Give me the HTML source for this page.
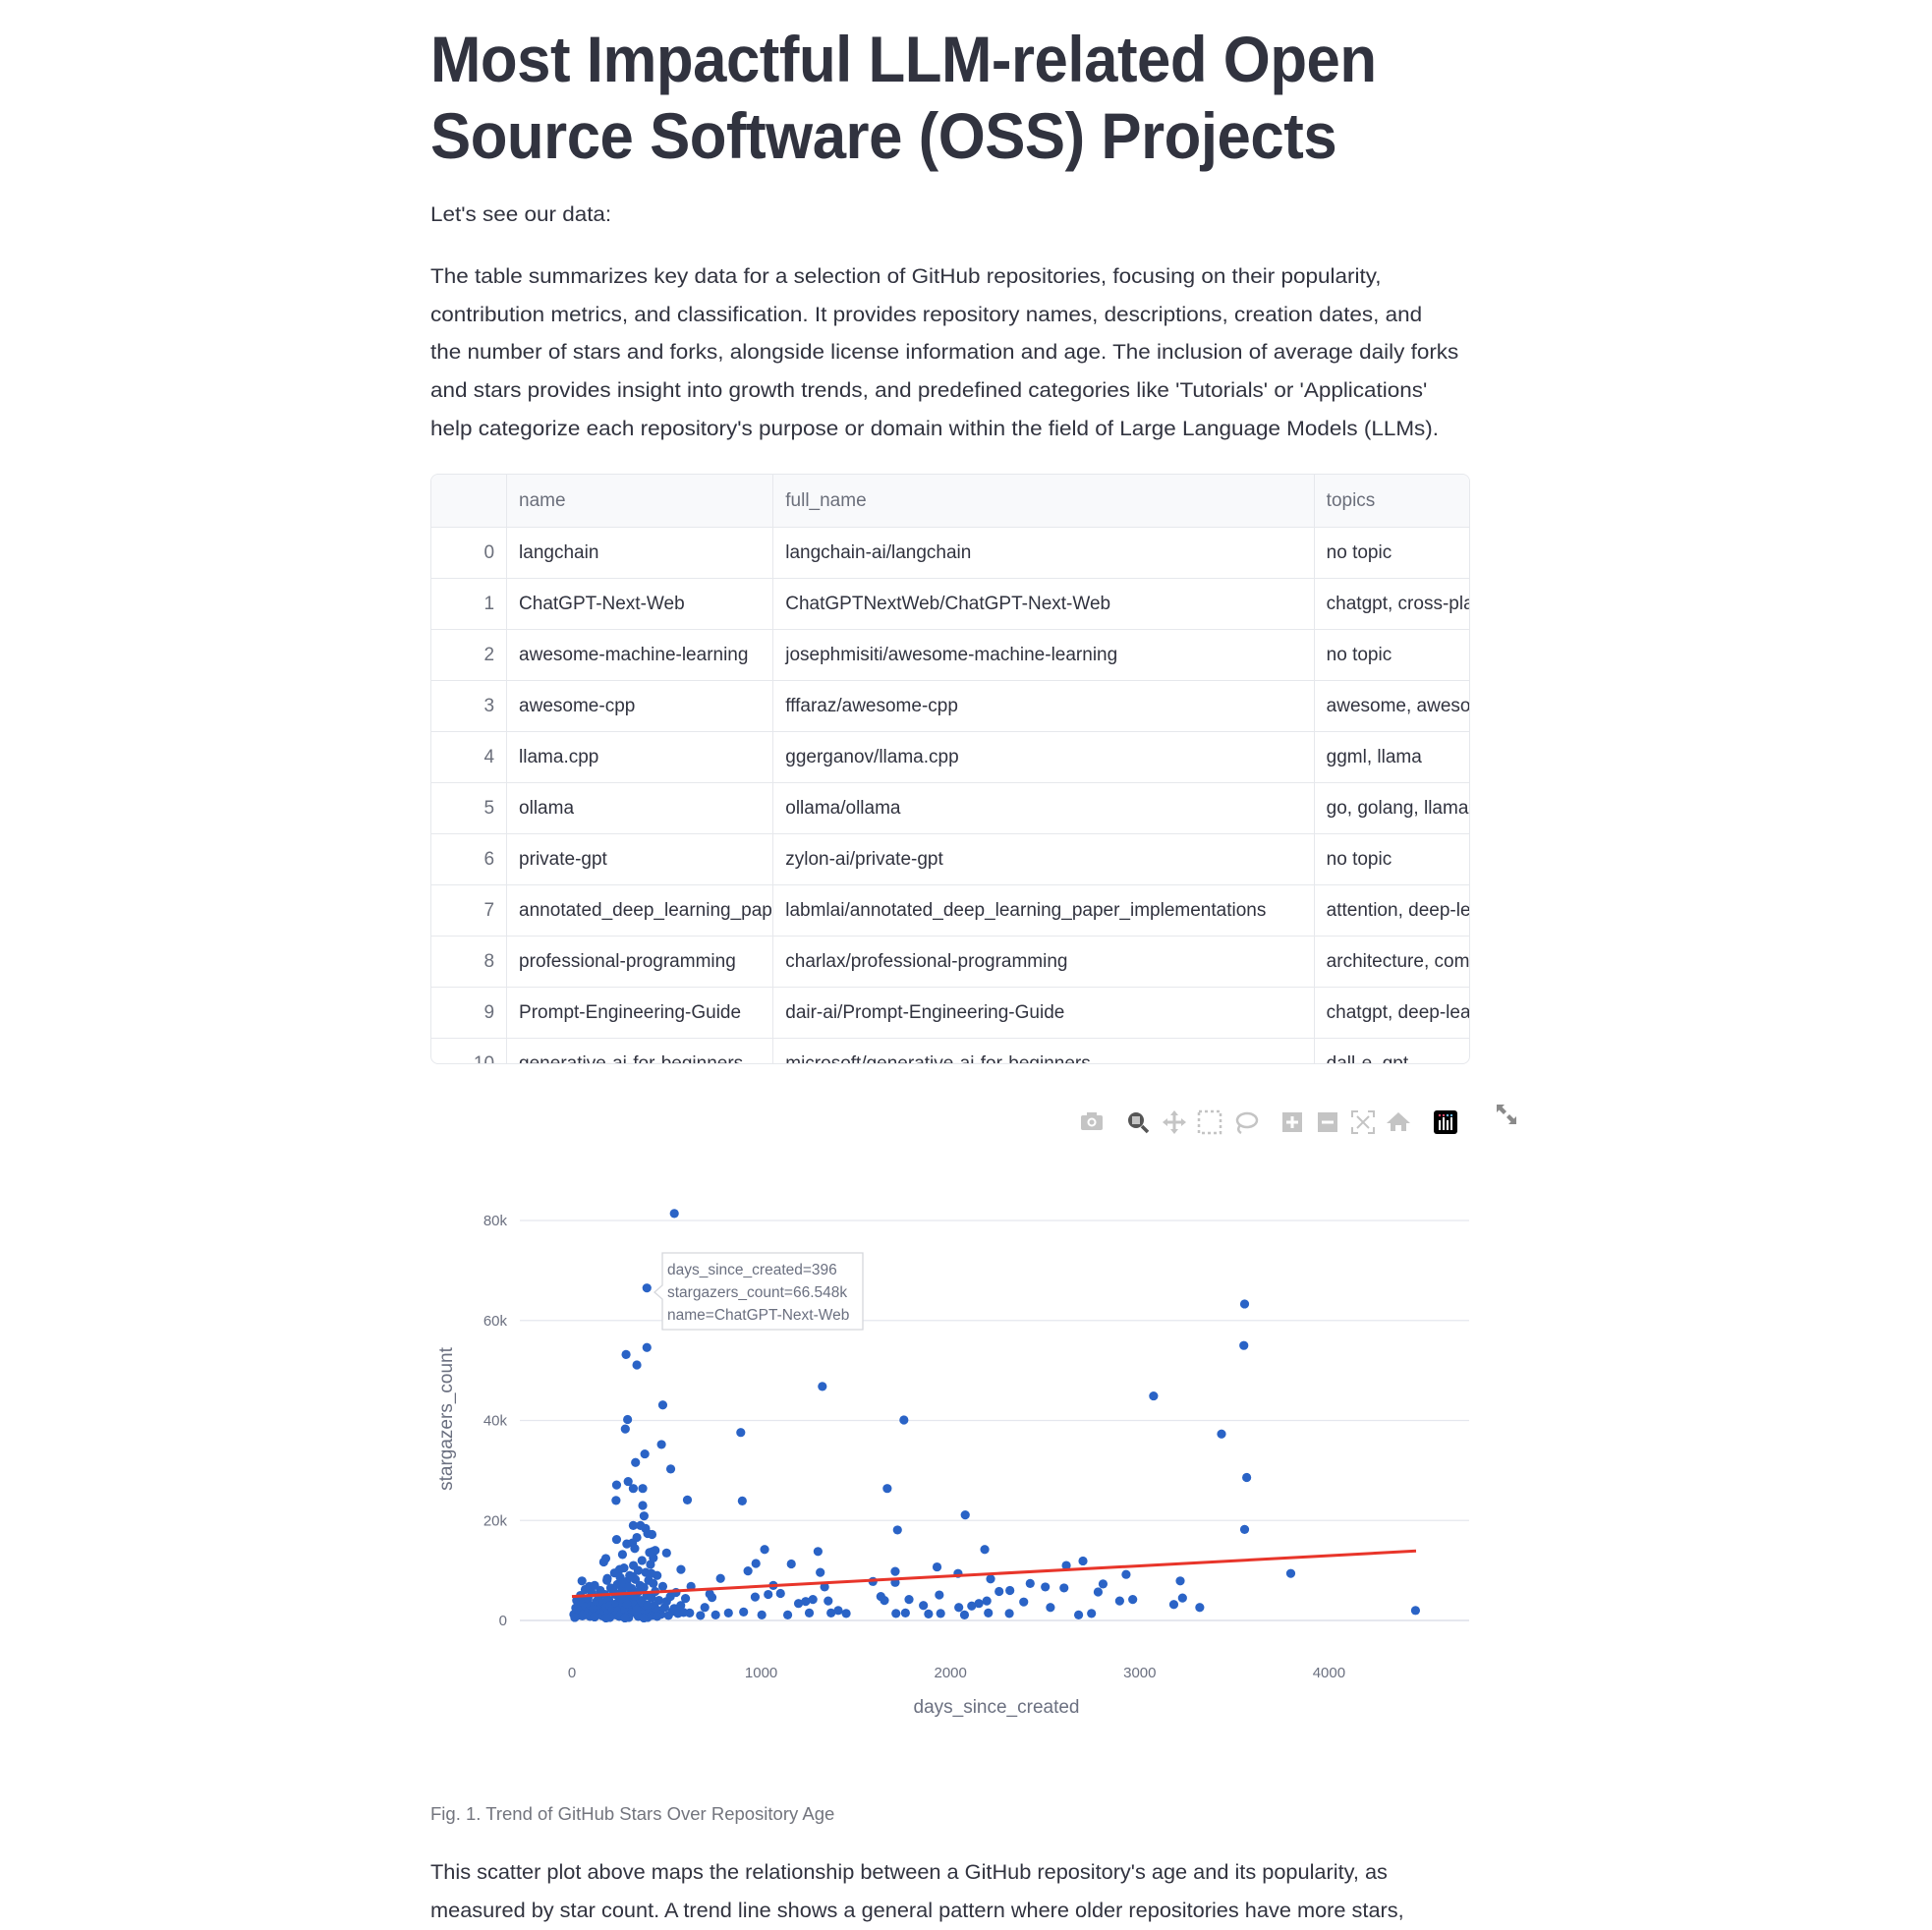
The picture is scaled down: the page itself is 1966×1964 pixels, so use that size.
<!DOCTYPE html>
<html><head><meta charset="utf-8">
<style>
body{margin:0;width:1966px;height:1962px;overflow:hidden;background:#fff;font-family:"Liberation Sans",sans-serif;color:#31333f;position:relative}
.abs{position:absolute}
h1{position:absolute;left:438px;top:21px;margin:0;font-size:66px;line-height:78px;font-weight:bold;color:#31333f;white-space:nowrap;transform:scaleX(0.935);transform-origin:left top;letter-spacing:-0.5px}
.p{position:absolute;left:438px;font-size:21px;line-height:38.7px;white-space:nowrap;transform-origin:left top}
table{position:absolute;left:438px;top:483px;border-collapse:collapse;font-size:19px;table-layout:fixed}
.tw{position:absolute;left:438px;top:482px;width:1058px;height:601px;overflow:hidden;border:1px solid #e6e8ec;border-radius:8px;box-sizing:border-box}
.tw table{left:-1px;top:-1px}
td,th{height:52px;border:1px solid #e6e8ec;padding:0 12px;white-space:nowrap;overflow:hidden;text-align:left;font-weight:normal;box-sizing:border-box}
th{background:#f8f9fb;color:#6b6f7b;height:54px}
td.i{text-align:right;color:#6b6f7b}
.cap{position:absolute;left:438px;top:1835px;font-size:18.5px;color:#73757e;white-space:nowrap}
</style></head><body>
<h1>Most Impactful LLM-related Open<br>Source Software (OSS) Projects</h1>
<div class="p" style="top:200px;transform:scaleX(1.07)">Let's see our data:</div>
<div class="p" style="top:263px;transform:scaleX(1.07)">The table summarizes key data for a selection of GitHub repositories, focusing on their popularity,<br>contribution metrics, and classification. It provides repository names, descriptions, creation dates, and<br>the number of stars and forks, alongside license information and age. The inclusion of average daily forks<br>and stars provides insight into growth trends, and predefined categories like 'Tutorials' or 'Applications'<br>help categorize each repository's purpose or domain within the field of Large Language Models (LLMs).</div>
<div class="tw">
<table style="width:1300px">
<colgroup><col style="width:77px"><col style="width:271px"><col style="width:550px"><col style="width:400px"></colgroup>
<tr><th></th><th>name</th><th>full_name</th><th>topics</th></tr>
<tr><td class="i">0</td><td>langchain</td><td>langchain-ai/langchain</td><td>no topic</td></tr>
<tr><td class="i">1</td><td>ChatGPT-Next-Web</td><td>ChatGPTNextWeb/ChatGPT-Next-Web</td><td>chatgpt, cross-platform</td></tr>
<tr><td class="i">2</td><td>awesome-machine-learning</td><td>josephmisiti/awesome-machine-learning</td><td>no topic</td></tr>
<tr><td class="i">3</td><td>awesome-cpp</td><td>fffaraz/awesome-cpp</td><td>awesome, awesome-list</td></tr>
<tr><td class="i">4</td><td>llama.cpp</td><td>ggerganov/llama.cpp</td><td>ggml, llama</td></tr>
<tr><td class="i">5</td><td>ollama</td><td>ollama/ollama</td><td>go, golang, llama</td></tr>
<tr><td class="i">6</td><td>private-gpt</td><td>zylon-ai/private-gpt</td><td>no topic</td></tr>
<tr><td class="i">7</td><td>annotated_deep_learning_paper_implementations</td><td>labmlai/annotated_deep_learning_paper_implementations</td><td>attention, deep-learning</td></tr>
<tr><td class="i">8</td><td>professional-programming</td><td>charlax/professional-programming</td><td>architecture, computer-science</td></tr>
<tr><td class="i">9</td><td>Prompt-Engineering-Guide</td><td>dair-ai/Prompt-Engineering-Guide</td><td>chatgpt, deep-learning</td></tr>
<tr><td class="i">10</td><td>generative-ai-for-beginners</td><td>microsoft/generative-ai-for-beginners</td><td>dall-e, gpt</td></tr>
</table></div>

<svg id="chart" class="abs" style="left:0;top:0" width="1966" height="1962"></svg>

<div class="cap">Fig. 1. Trend of GitHub Stars Over Repository Age</div>
<div class="p" style="top:1887px;transform:scaleX(1.035)">This scatter plot above maps the relationship between a GitHub repository's age and its popularity, as<br>measured by star count. A trend line shows a general pattern where older repositories have more stars,</div>

<script>
const xTicks=[0,1000,2000,3000,4000];
const yTicks=[0,20000,40000,60000,80000];
const yTickLabels=["0","20k","40k","60k","80k"];
const trendX=[0,4460];
const trendY=[4800,13900];
const pointDays=[541,396,3554,3550,396,286,343,1323,3073,480,294,1754,282,892,3432,473,385,336,522,3565,297,236,324,374,1666,233,900,610,374,381,2078,324,362,389,1720,3554,400,423,343,236,290,320,332,1018,2181,427,500,1300,267,179,2700,168,1159,2612,972,1929,576,252,1708,930,1312,3798,2928,2040,187,785,2212,3214,1590,1708,53,2421,2806,629,1064,1335,2501,2600,92,2314,2257,2780,728,1102,1037,1941,1632,968,3226,740,1781,1651,2894,2963,2387,2192,1354,3180,3317,2528,2150,2112,2044,1857,2745,2677,4457,2200,2311,1762,1712,2074,1884,1948,1449,1369,1254,1140,1003,827,907,759,679,622,1407,1197,1235,1273,702,
10,20,25,30,35,40,45,50,55,60,65,70,75,80,85,90,95,100,105,110,115,120,125,130,135,140,145,150,155,160,165,170,175,180,185,190,195,200,205,210,215,220,225,230,235,240,245,250,255,260,265,270,275,280,285,290,295,300,305,310,315,320,325,330,335,340,345,350,355,360,365,370,375,380,385,390,395,400,405,410,415,420,425,430,435,440,445,450,455,460,470,480,490,500,510,520,530,540,550,560,575,590,600,15,120,200,300,400,250,350,450,180,280,380,330,310,360,270,230,340,290,370,260,320,350,300,400,420,430,440,410];
const pointStars=[81.4,66.5,63.3,55.0,54.6,53.2,51.1,46.8,44.9,43.1,40.2,40.1,38.3,37.6,37.3,35.2,33.3,31.6,30.3,28.6,27.8,27.1,26.4,26.4,26.4,24.0,23.9,24.1,23.0,20.9,21.1,19.0,19.0,18.4,18.1,18.2,17.4,17.2,16.6,16.2,15.3,15.5,14.4,14.2,14.2,13.8,13.5,13.8,13.2,12.4,11.9,11.7,11.3,11.0,11.4,10.7,10.2,10.2,9.8,9.9,9.6,9.4,9.2,9.4,8.4,8.4,8.3,7.9,7.8,7.6,7.9,7.4,7.3,6.8,7.0,6.7,6.7,6.5,6.8,6.0,5.8,5.7,5.3,5.4,5.2,5.1,4.8,4.7,4.5,4.6,4.2,4.0,3.9,4.2,3.7,3.9,3.9,3.2,2.6,2.6,3.4,2.9,2.6,3.0,1.4,1.1,2.0,1.5,1.4,1.5,1.4,1.1,1.3,1.4,1.4,1.5,1.5,1.1,1.1,1.5,1.7,1.1,1.0,1.5,2.0,3.4,3.8,4.2,2.6,
1.2,2.5,4.0,1.0,3.2,1.8,5.0,2.2,0.9,3.5,1.4,6.2,2.8,1.1,4.4,2.0,0.8,3.0,5.5,1.6,2.4,7.0,1.0,3.8,2.2,4.8,1.3,6.0,2.7,0.9,3.6,1.9,5.2,2.6,8.0,1.2,4.1,3.0,6.5,1.5,2.3,5.8,9.5,1.1,3.4,7.2,2.0,4.6,8.6,1.4,6.0,3.1,10.5,2.2,5.0,7.8,1.0,4.2,9.0,2.8,6.4,1.6,11.0,3.6,8.2,5.4,1.2,10.0,2.6,7.0,4.0,12.0,1.8,6.6,3.2,9.6,5.0,1.4,8.0,2.4,11.2,4.6,1.0,7.4,3.0,5.8,1.6,9.0,2.0,4.0,1.2,6.8,2.6,3.8,1.0,4.8,1.8,2.4,5.6,1.4,3.0,1.6,4.4,0.6,0.7,0.6,0.6,0.6,0.8,0.8,0.8,0.5,0.5,0.5,4.9,5.3,6.2,7.5,5.2,2.1,3.3,3.7,4.4,8.8,5.7,6.7,3.1,9.4,12.5,14.0,13.6];

const NS="http://www.w3.org/2000/svg";
const svg=document.getElementById('chart');
const X0=529,X1=1495,Y0=1649,Y1=1242;
function xs(v){return 582+v*0.1926;}
function ys(v){return Y0-(v/80000)*(Y0-Y1);}
function mk(tag,attrs,parent){const e=document.createElementNS(NS,tag);for(const k in attrs)e.setAttribute(k,attrs[k]);(parent||svg).appendChild(e);return e;}

yTicks.forEach((t,i)=>{
  const g=mk('line',{x1:X0,x2:X1,y1:ys(t),y2:ys(t),stroke:'#e5e7ee','stroke-width':i===0?2:1.3});
  
  
  const tx=mk('text',{x:516,y:ys(t)+5,'text-anchor':'end','font-size':15,fill:'#6b7080','font-family':'Liberation Sans, sans-serif'});
  tx.textContent=yTickLabels[i];
  
  
});
xTicks.forEach(t=>{
  const tx=mk('text',{x:xs(t),y:1707,'text-anchor':'middle','font-size':15,fill:'#6b7080','font-family':'Liberation Sans, sans-serif'});
  tx.textContent=String(t);
  
  
});
let at=mk('text',{x:1014,y:1743,'text-anchor':'middle','font-size':19,fill:'#6b7080','font-family':'Liberation Sans, sans-serif'});
at.textContent='days_since_created';


at=mk('text',{x:0,y:0,'text-anchor':'middle','font-size':19,fill:'#6b7080','font-family':'Liberation Sans, sans-serif',transform:'translate(460,1444) rotate(-90)'});
at.textContent='stargazers_count';



pointDays.forEach((d,i)=>{
  const c=mk('circle',{cx:xs(d),cy:ys(pointStars[i]*1000),r:4.6,fill:'#2a63c6'});
  
  
});
const tl=mk('line',{x1:xs(trendX[0]),y1:ys(trendY[0]),x2:xs(trendX[1]),y2:ys(trendY[1]),stroke:'#e8352a','stroke-width':3});



const tg=mk('g',{});


mk('path',{d:'M674,1275 H878 V1353 H674 V1322 L666,1315 L674,1308 Z',fill:'#fff',stroke:'#d5d7dc','stroke-width':1.3},tg);
['days_since_created=396','stargazers_count=66.548k','name=ChatGPT-Next-Web'].forEach((s,i)=>{
  const t=mk('text',{x:679,y:1297+i*23,'font-size':15.5,fill:'#6b7080','font-family':'Liberation Sans, sans-serif'},tg);
  t.textContent=s;
});

const tb=mk('g',{fill:'#c4c4c4',stroke:'none'});


function tool(name,x,draw){const g=mk('g',{transform:'translate('+x+',1142)'},tb);draw(g);}
tool('camera-button',1111,g=>{mk('rect',{x:-11,y:-7,width:22,height:15,rx:2},g);mk('rect',{x:-5,y:-10,width:10,height:4},g);mk('circle',{cx:0,cy:0,r:4.5,fill:'#fff'},g);mk('circle',{cx:0,cy:0,r:2.5},g);});
tool('zoom-button',1158,g=>{mk('circle',{cx:-2,cy:-2,r:8,fill:'#555'},g);mk('rect',{x:-6,y:-6,width:8,height:8,fill:'#c4c4c4'},g);mk('line',{x1:4,y1:4,x2:10,y2:10,stroke:'#555','stroke-width':3.5},g);});
tool('pan-button',1195,g=>{mk('path',{d:'M0,-12 L4,-7 H1.5 V-1.5 H7 V-4 L12,0 L7,4 V1.5 H1.5 V7 H4 L0,12 L-4,7 H-1.5 V1.5 H-7 V4 L-12,0 L-7,-4 V-1.5 H-1.5 V-7 H-4 Z'},g);});
tool('box-select-button',1231,g=>{mk('rect',{x:-11,y:-11,width:22,height:22,fill:'none',stroke:'#c4c4c4','stroke-width':2.5,'stroke-dasharray':'3 3'},g);});
tool('lasso-button',1267,g=>{mk('ellipse',{cx:2,cy:-2,rx:10,ry:7,fill:'none',stroke:'#c4c4c4','stroke-width':2.5},g);mk('path',{d:'M-5,3 Q-9,8 -4,11',fill:'none',stroke:'#c4c4c4','stroke-width':2.5},g);});
tool('zoom-in-button',1315,g=>{mk('rect',{x:-10,y:-10,width:20,height:20},g);mk('rect',{x:-6,y:-1.5,width:12,height:3,fill:'#fff'},g);mk('rect',{x:-1.5,y:-6,width:3,height:12,fill:'#fff'},g);});
tool('zoom-out-button',1351,g=>{mk('rect',{x:-10,y:-10,width:20,height:20},g);mk('rect',{x:-6,y:-1.5,width:12,height:3,fill:'#fff'},g);});
tool('autoscale-button',1387,g=>{mk('path',{d:'M-11,-5 V-11 H-5 M5,-11 H11 V-5 M11,5 V11 H5 M-5,11 H-11 V5 M-6,-6 L6,6 M6,-6 L-6,6',fill:'none',stroke:'#c4c4c4','stroke-width':2},g);});
tool('reset-axes-button',1423,g=>{mk('path',{d:'M0,-10 L12,1 H8 V9 H3 V3 H-3 V9 H-8 V1 H-12 Z'},g);});
tool('plotly-logo',1471,g=>{mk('rect',{x:-12,y:-12,width:24,height:24,rx:3,fill:'#000'},g);[-6,-2,2,6].forEach((dx,k)=>{mk('rect',{x:dx-1,y:-2-(k%2)*3,width:2,height:10+(k%2)*3,fill:'#fff'},g);mk('circle',{cx:dx,cy:-7,r:1.2,fill:k<2?'#e0476a':'#6fb8e8'},g);});});
tool('fullscreen-button',1533,g=>{g.setAttribute('transform','translate(1533,1134)');mk('path',{d:'M-10,-10 H-2 L-4.5,-7.5 L0,-3 L-3,0 L-7.5,-4.5 L-10,-2 Z M10,10 H2 L4.5,7.5 L0,3 L3,0 L7.5,4.5 L10,2 Z',fill:'#8a8a8a'},g);});
</script>
</body></html>
